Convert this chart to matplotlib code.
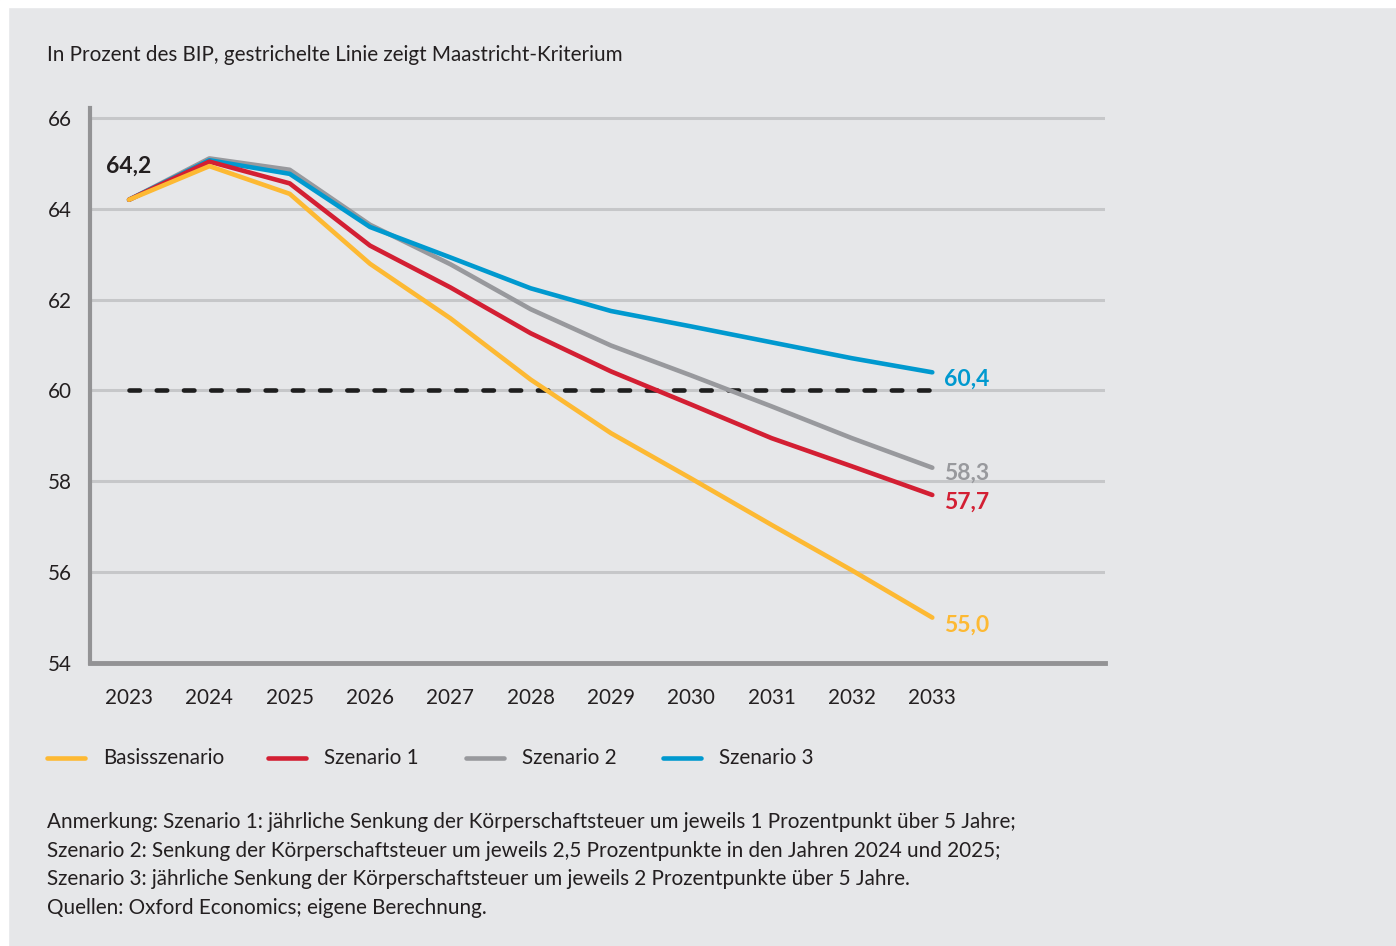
import matplotlib
matplotlib.use("Agg")
import matplotlib.pyplot as plt
from matplotlib.lines import Line2D
from matplotlib.patches import Rectangle

years = [2023, 2024, 2025, 2026, 2027, 2028, 2029, 2030, 2031, 2032, 2033]
basis = [64.2, 64.94, 64.33, 62.79, 61.59, 60.24, 59.06, 58.06, 57.04, 56.04, 55.0]
szen1 = [64.2, 65.04, 64.56, 63.19, 62.27, 61.26, 60.42, 59.69, 58.95, 58.33, 57.7]
szen2 = [64.2, 65.11, 64.86, 63.65, 62.78, 61.79, 60.99, 60.33, 59.65, 58.95, 58.3]
szen3 = [64.2, 65.07, 64.77, 63.6, 62.93, 62.25, 61.75, 61.41, 61.06, 60.71, 60.4]
maastricht = 60
end_labels = ["55,0", "57,7", "58,3", "60,4"]
names = ["Basisszenario", "Szenario 1", "Szenario 2", "Szenario 3"]
colors = ["#FDB933", "#D31F33", "#98999D", "#0099CF"]
yticks = [54, 56, 58, 60, 62, 64, 66]

notes = ["Anmerkung: Szenario 1: jährliche Senkung der Körperschaftsteuer um jeweils 1 Prozentpunkt über 5 Jahre;",
         "Szenario 2: Senkung der Körperschaftsteuer um jeweils 2,5 Prozentpunkte in den Jahren 2024 und 2025;",
         "Szenario 3: jährliche Senkung der Körperschaftsteuer um jeweils 2 Prozentpunkte über 5 Jahre.",
         "Quellen: Oxford Economics; eigene Berechnung."]

plt.rcParams['font.family'] = ['Lato', 'DejaVu Sans']
bg = "#E6E7E9"
txt = "#231F20"
fs = 14.9

fig = plt.figure(figsize=(13.96, 9.46), dpi=100, facecolor=bg)
# white strip left and top
fig.patches.append(Rectangle((0, 0), 8/1396, 1, transform=fig.transFigure, color="white", zorder=-1))
fig.patches.append(Rectangle((0, 1-7/946), 1, 7/946, transform=fig.transFigure, color="white", zorder=-1))

ax = fig.add_axes([90/1396, 1-663/946, (1105-90)/1396, (663-108)/946])
ax.set_facecolor(bg)
ax.set_xlim(2022.514, 2035.15)
ax.set_ylim(54, 66.22)

for y in yticks[1:]:
    ax.axhline(y, color="#C6C7C9", lw=2.2, zorder=1)

ax.plot([years[0], years[-1]], [maastricht, maastricht], color="#1E1E1E", lw=3.3,
        dashes=(2.29, 3.65), dash_capstyle="round", zorder=2)

series = [basis, szen1, szen2, szen3]
zs = [3.5, 3.4, 3.1, 3.2]
for i in [2, 3, 1, 0]:
    ax.plot(years, series[i], color=colors[i], lw=3.3, solid_capstyle="round",
            solid_joinstyle="round", zorder=zs[i])

ax.text(years[0] - 0.29, 64.93, "64,2", fontsize=16.5, fontweight="bold", color=txt, ha="left", va="center")
offs = [-0.17, -0.15, -0.12, -0.15]
for i in range(4):
    ax.text(years[-1] + 0.15, series[i][-1] + offs[i], end_labels[i], fontsize=16.5, fontweight="bold",
            color=colors[i], ha="left", va="center")

for s in ["top", "right"]:
    ax.spines[s].set_visible(False)
ax.spines["left"].set_color("#939395")
ax.spines["left"].set_linewidth(3)
ax.spines["bottom"].set_color("#939395")
ax.spines["bottom"].set_linewidth(3.5)
ax.set_yticks(yticks)
ax.set_xticks(years)
ax.tick_params(length=0, labelsize=fs, colors=txt)
ax.tick_params(axis="y", pad=13)
ax.tick_params(axis="x", pad=18)

fig.text(47/1396, 1-55/946, "In Prozent des BIP, gestrichelte Linie zeigt Maastricht-Kriterium",
         fontsize=fs, color=txt, va="center", ha="left")

# legend, drawn by hand
leg_x = [47, 268, 466, 663]
leg_y = 1 - 758/946
for i in range(4):
    x0 = leg_x[i] / 1396
    fig.add_artist(Line2D([x0, x0 + 38/1396], [leg_y, leg_y], color=colors[i], lw=3.3,
                          solid_capstyle="round", transform=fig.transFigure))
    fig.text(x0 + 56/1396, leg_y, names[i], fontsize=fs, color=txt, va="center", ha="left")

for k, line in enumerate(notes):
    fig.text(47/1396, 1-(822 + 28.5*k)/946, line, fontsize=fs, color=txt, va="center", ha="left")

fig.savefig("out.png", dpi=100, facecolor=bg)
